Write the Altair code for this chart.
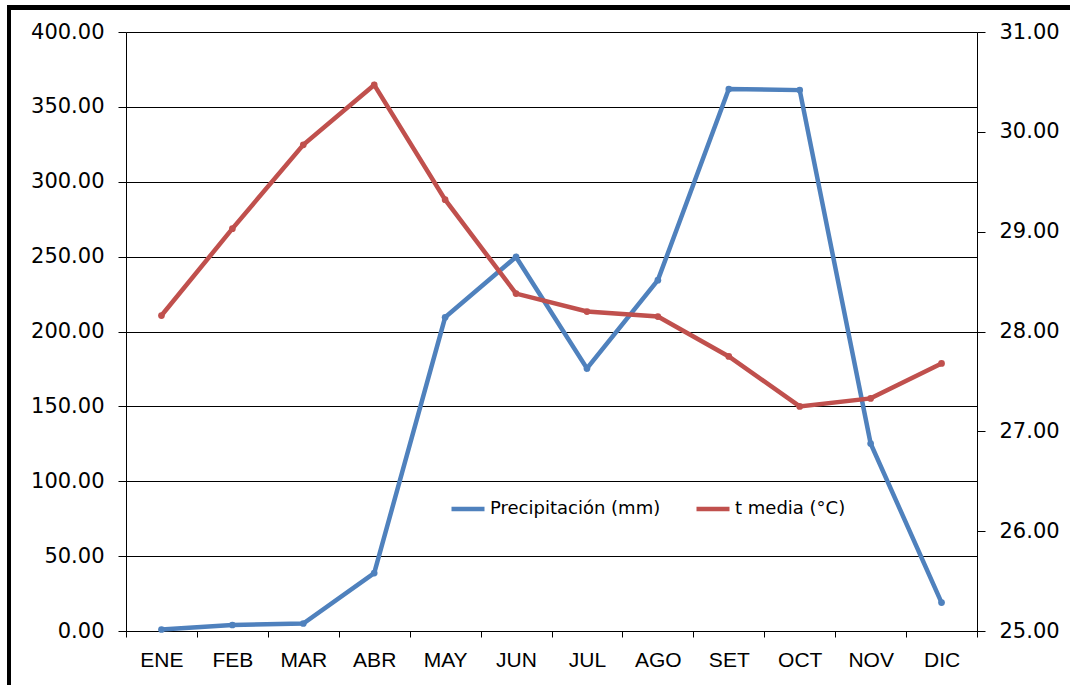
import altair as alt
import pandas as pd

months = ["ENE", "FEB", "MAR", "ABR", "MAY", "JUN", "JUL", "AGO", "SET", "OCT", "NOV", "DIC"]
precip = [1.0, 4.0, 5.0, 38.7, 209.5, 249.8, 175.3, 234.3, 361.9, 361.2, 125.2, 19.0]
temp = [28.16, 29.03, 29.87, 30.47, 29.32, 28.38, 28.20, 28.15, 27.75, 27.25, 27.33, 27.68]
series = ["Precipitación (mm)", "t media (°C)"]
left_ticks = [0, 50, 100, 150, 200, 250, 300, 350, 400]
right_ticks = [25, 26, 27, 28, 29, 30, 31]

df_p = pd.DataFrame({"mes": months, "valor": precip, "serie": series[0]})
df_t = pd.DataFrame({"mes": months, "valor": temp, "serie": series[1]})

W, H = 851, 599
PL, PT = 126, 32

xenc = alt.X(
    "mes:N", sort=months, bandPosition=0.5,
    scale=alt.Scale(type="band", paddingInner=0, paddingOuter=0),
    axis=alt.Axis(title=None, labelAngle=0, tickBand="extent", tickSize=6,
                  tickColor="black", domainColor="black", labelColor="black",
                  labelFont="Liberation Sans", labelFontSize=21, labelPadding=12),
)
color = alt.Color("serie:N", scale=alt.Scale(domain=series, range=["#4F81BD", "#C0504D"]),
                  legend=alt.Legend(title=None, orient="none", legendX=323, legendY=458,
                                    direction="horizontal", symbolType="stroke",
                                    symbolStrokeWidth=4.5, symbolSize=1089, labelFontSize=18,
                                    labelFont="DejaVu Sans", labelColor="black", labelLimit=0,
                                    columnPadding=26, labelOffset=3, padding=0))

prec = alt.Chart(df_p).mark_line(strokeWidth=4.5, point=alt.OverlayMarkDef(size=45, filled=True)).encode(
    x=xenc,
    y=alt.Y("valor:Q", scale=alt.Scale(domain=[0, 400], nice=False),
            axis=alt.Axis(title=None, values=left_ticks, format=".2f", grid=True,
                          gridColor="black", gridWidth=1, tickSize=8, tickColor="black",
                          domainColor="black", labelColor="black", labelFont="DejaVu Sans",
                          labelFontSize=21, labelPadding=14)),
    color=color,
)

tem = alt.Chart(df_t).mark_line(strokeWidth=4.5, point=alt.OverlayMarkDef(size=45, filled=True)).encode(
    x=xenc,
    y=alt.Y("valor:Q", scale=alt.Scale(domain=[25, 31], nice=False),
            axis=alt.Axis(title=None, orient="right", values=right_ticks, format=".2f",
                          grid=False, tickSize=8, tickColor="black", domainColor="black",
                          labelColor="black", labelFont="DejaVu Sans", labelFontSize=21,
                          labelPadding=14)),
    color=color,
)

frame_left = alt.Chart(df_p).mark_rule(color="black", strokeWidth=4).encode(
    x=alt.value(9 - PL), y=alt.value(5 - PT), y2=alt.value(685 - PT))
frame_top = alt.Chart(df_p).mark_rule(color="black", strokeWidth=5).encode(
    x=alt.value(7 - PL), x2=alt.value(1070 - PL), y=alt.value(7.5 - PT))

chart = alt.layer(prec, tem, frame_left, frame_top).resolve_scale(y="independent").properties(
    width=W, height=H, autosize="none",
    padding={"left": PL, "top": PT, "right": 1070 - PL - W, "bottom": 685 - PT - H},
    background="white",
).configure_view(stroke=None)

chart.save("out.html", embed_options={"renderer": "svg", "actions": False})
